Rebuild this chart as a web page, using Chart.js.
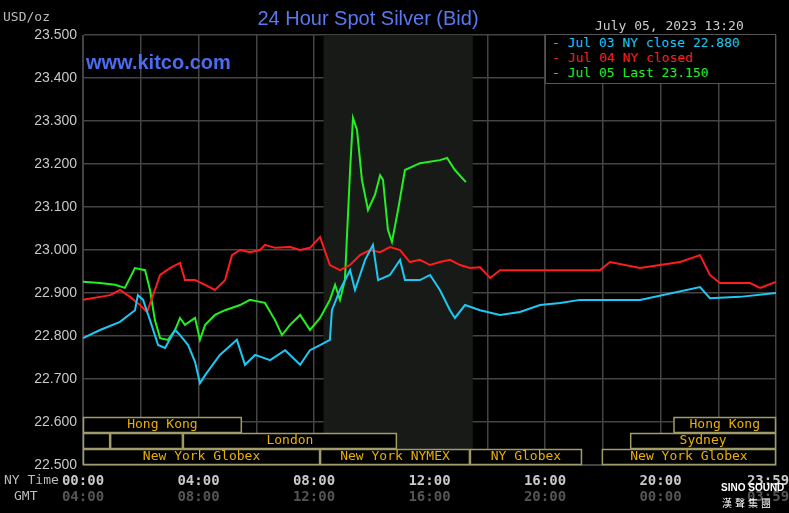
<!DOCTYPE html>
<html>
<head>
<meta charset="utf-8">
<script src="https://cdn.jsdelivr.net/npm/chart.js@4"></script>
<style>
  body { margin:0; background:#000; }
  #wrap { position:relative; width:789px; height:513px; background:#000; overflow:hidden; }
  canvas { position:absolute; left:0; top:0; }
  .t { position:absolute; font-family:"DejaVu Sans Mono",monospace; font-size:13px; white-space:nowrap; }
  #title { left:0; width:736px; top:7px; text-align:center; font-family:"Liberation Sans",Arial,sans-serif; font-size:20px; color:#5a78f0; }
  #site { left:86px; top:51px; font-family:"Liberation Sans",Arial,sans-serif; font-size:20px; font-weight:bold; color:#4a6cf0; }
  #legend { position:absolute; left:545px; top:34px; width:229px; height:48px; background:#000; border:1px solid #555; }
  #legend div { height:15px; line-height:15px; padding-left:6px; }
</style>
</head>
<body>
<div id="wrap">
  <canvas id="chart" width="789" height="513"></canvas>
  <div class="t" id="title">24 Hour Spot Silver (Bid)</div>
  <div class="t" style="left:3px;top:9px;color:#bbb">USD/oz</div>
  <div class="t" style="left:595px;top:18px;color:#ccc">July 05, 2023 13:20</div>
  <div class="t" id="site">www.kitco.com</div>
  <div class="t" id="legend"></div>
  <div class="t" style="left:4px;top:472px;color:#bbb">NY Time</div>
  <div class="t" style="left:14px;top:488px;color:#bbb">GMT</div>
  <div class="t" style="left:721px;top:482px;color:#fff;font-family:'Liberation Sans',sans-serif;font-weight:bold;font-size:10px">SINO SOUND</div>
  <div class="t" style="left:722px;top:495px;color:#fff;font-family:'Noto Sans CJK TC',sans-serif;font-size:10px;letter-spacing:3px">漢聲集團</div>
</div>
<script>
// price series: hours (NY time) and USD/oz
const blueHours = [0,0.59,1.28,1.80,1.90,2.08,2.32,2.60,2.84,3.19,3.36,3.64,3.88,4.05,4.23,4.74,5.33,5.61,5.96,6.48,7.00,7.52,7.86,8.21,8.55,8.62,8.90,9.25,9.42,9.77,10.04,10.22,10.63,10.98,11.15,11.67,12.02,12.36,12.71,12.88,13.23,13.75,14.44,15.13,15.83,16.52,17.21,19.29,21.37,21.71,22.75,24];
const bluePrices = [22.795,22.814,22.833,22.860,22.895,22.884,22.837,22.779,22.772,22.814,22.802,22.779,22.740,22.690,22.709,22.756,22.791,22.733,22.756,22.744,22.767,22.733,22.767,22.779,22.791,22.860,22.907,22.953,22.907,22.977,23.012,22.930,22.942,22.977,22.930,22.930,22.942,22.907,22.860,22.842,22.872,22.860,22.849,22.856,22.872,22.877,22.884,22.884,22.914,22.888,22.891,22.900];
const redHours = [0,0.94,1.28,1.63,1.97,2.22,2.49,2.67,3.01,3.36,3.53,3.88,4.23,4.57,4.92,5.16,5.44,5.78,6.13,6.30,6.65,7.17,7.52,7.86,8.21,8.55,8.90,9.25,9.59,9.94,10.29,10.63,10.98,11.32,11.67,12.02,12.36,12.71,13.06,13.40,13.75,14.10,14.44,15.13,17.90,18.25,19.29,19.98,20.68,21.37,21.71,22.06,23.10,23.45,24];
const redPrices = [22.884,22.895,22.907,22.891,22.872,22.856,22.907,22.942,22.958,22.970,22.930,22.930,22.919,22.907,22.930,22.988,23.000,22.995,23.000,23.012,23.005,23.007,23.000,23.005,23.030,22.965,22.953,22.965,22.988,23.000,22.995,23.007,23.000,22.972,22.977,22.965,22.972,22.977,22.965,22.958,22.960,22.935,22.953,22.953,22.953,22.972,22.958,22.965,22.972,22.988,22.942,22.923,22.923,22.912,22.926];
const greenHours = [0,0.59,1.11,1.45,1.80,2.15,2.32,2.49,2.67,2.94,3.19,3.36,3.53,3.88,4.05,4.23,4.57,4.92,5.44,5.78,6.30,6.65,6.89,7.17,7.52,7.86,8.21,8.55,8.73,8.90,9.07,9.25,9.35,9.49,9.66,9.87,10.11,10.29,10.39,10.56,10.70,10.91,11.15,11.67,12.36,12.61,12.88,13.26];
const greenPrices = [22.926,22.923,22.919,22.912,22.958,22.953,22.907,22.837,22.795,22.791,22.814,22.842,22.826,22.842,22.791,22.826,22.849,22.860,22.872,22.884,22.877,22.837,22.802,22.826,22.849,22.814,22.842,22.884,22.919,22.884,22.930,23.186,23.307,23.279,23.163,23.093,23.128,23.174,23.163,23.047,23.019,23.093,23.186,23.202,23.209,23.214,23.186,23.158];

const seriesNames = ["Jul 03 NY close 22.880","Jul 04 NY closed","Jul 05 Last 23.150"];
const seriesColors = ["#1ec8f5","#ff1c1c","#22f022"];

const yTicks = [22.5,22.6,22.7,22.8,22.9,23.0,23.1,23.2,23.3,23.4,23.5];
const nyLabels = ["00:00","04:00","08:00","12:00","16:00","20:00","23:59"];
const gmtLabels = ["04:00","08:00","12:00","16:00","20:00","00:00","03:59"];
const labelHours = [0,4,8,12,16,20,24];

// trading sessions: [start hour, end hour, label, row]
const sessions = [
  [0,5.5,"Hong Kong",0],[20.45,24,"Hong Kong",0],
  [0,0.94,"",1],[0.94,3.46,"",1],[3.46,10.87,"London",1],[18.95,24,"Sydney",1],
  [0,8.21,"New York Globex",2],[8.21,13.4,"New York NYMEX",2],[13.4,17.28,"NY Globex",2],[17.97,24,"New York Globex",2]
];
const nymexShade = [8.33,13.5];

document.getElementById("legend").innerHTML = seriesNames.map((n,i) =>
  `<div style="color:${seriesColors[i]}">- ${n}</div>`).join("");

const toPts = (h,p) => h.map((x,i) => ({x:x, y:p[i]}));

const overlay = {
  id:"overlay",
  beforeDatasetsDraw(chart){
    const {ctx, chartArea:a, scales:{x}} = chart;
    ctx.save();
    ctx.fillStyle = "#171a17";
    const l = x.getPixelForValue(nymexShade[0]), r = x.getPixelForValue(nymexShade[1]);
    ctx.fillRect(l, a.top, r-l, a.bottom-a.top);
    ctx.restore();
  },
  afterDatasetsDraw(chart){
    const {ctx, chartArea:a, scales:{x}} = chart;
    ctx.save();
    ctx.font = "13px 'DejaVu Sans Mono', monospace";
    ctx.textAlign = "center"; ctx.textBaseline = "middle";
    sessions.forEach(s => {
      const l = x.getPixelForValue(s[0]), r = x.getPixelForValue(s[1]);
      const top = a.bottom - 48 + s[3]*16;
      ctx.fillStyle = "#000";
      ctx.fillRect(l, top, r-l, 15);
      ctx.strokeStyle = "#a09c6a"; ctx.lineWidth = 1.5;
      ctx.strokeRect(l+0.5, top+0.5, r-l-1, 15);
      if (s[2]) { ctx.fillStyle = "#e8b000"; ctx.fillText(s[2], (l+r)/2, top+8); }
    });
    ctx.font = "bold 14px 'DejaVu Sans Mono', monospace";
    labelHours.forEach((h,i) => {
      const px = x.getPixelForValue(h) - (i === 6 ? 8 : 0);
      ctx.fillStyle = "#c8c8c8"; ctx.fillText(nyLabels[i], px, a.bottom+16);
      ctx.fillStyle = "#555"; ctx.fillText(gmtLabels[i], px, a.bottom+32);
    });
    ctx.restore();
  }
};

new Chart(document.getElementById("chart"), {
  type:"line",
  data:{ datasets:[
    {data:toPts(blueHours,bluePrices), borderColor:seriesColors[0]},
    {data:toPts(redHours,redPrices), borderColor:seriesColors[1]},
    {data:toPts(greenHours,greenPrices), borderColor:seriesColors[2]}
  ].map(d => Object.assign(d,{borderWidth:2, pointRadius:0, tension:0, fill:false})) },
  options:{
    responsive:false, animation:false,
    layout:{padding:{top:35, right:13, left:0, bottom:0}},
    plugins:{legend:{display:false}, tooltip:{enabled:false}},
    scales:{
      x:{type:"linear", min:0, max:24,
         ticks:{display:false, stepSize:2},
         grid:{color:"#444", lineWidth:1.5, drawTicks:false},
         border:{color:"#444"},
         afterFit(s){ s.height = 48; }},
      y:{min:22.5, max:23.5,
         afterBuildTicks(s){ s.ticks = yTicks.map(v => ({value:v})); },
         ticks:{color:"#c8c8c8", padding:6, font:{family:"Liberation Sans", size:14},
                callback:v => v.toFixed(3)},
         grid:{color:"#444", lineWidth:1.5, drawTicks:false},
         border:{color:"#444"},
         afterFit(s){ s.width = 83; }}
    }
  },
  plugins:[overlay]
});
</script>
</body>
</html>
